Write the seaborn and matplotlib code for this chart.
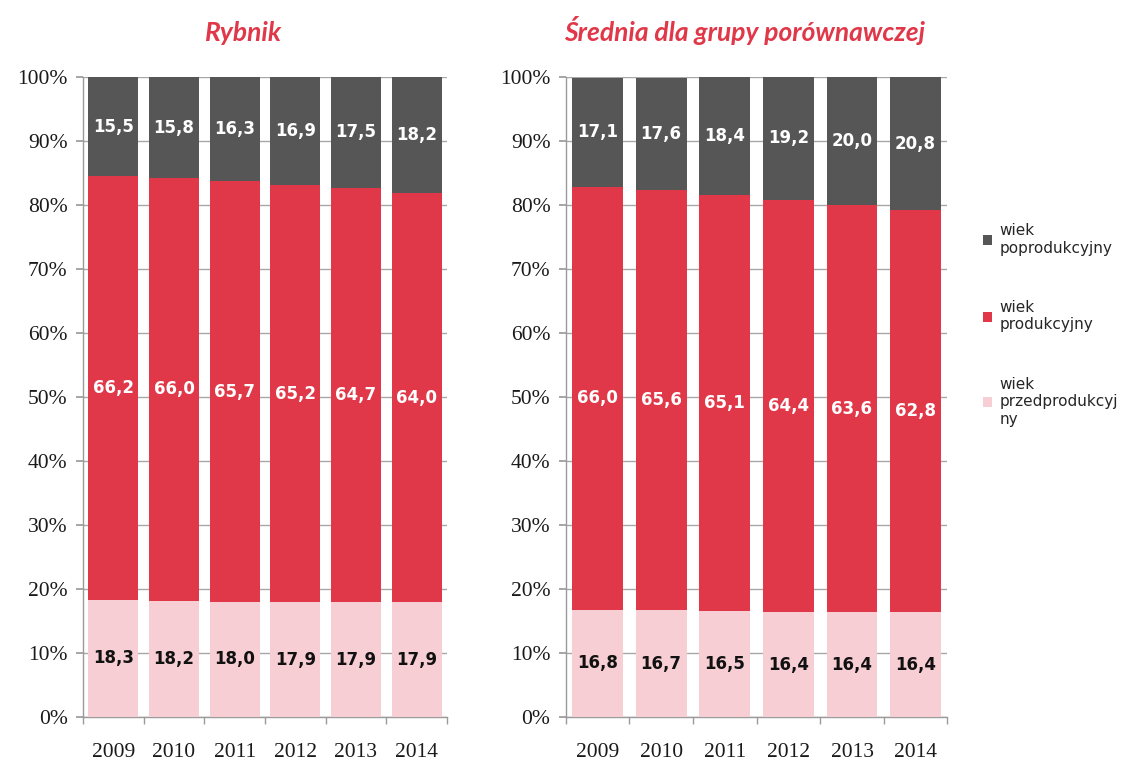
import matplotlib
matplotlib.use('Agg')
import matplotlib.pyplot as plt
import seaborn as sns
import pandas as pd
import numpy as np
from matplotlib.ticker import PercentFormatter
from matplotlib.patches import Patch

# data
years = ['2009', '2010', '2011', '2012', '2013', '2014']
rybnik_pre = [18.3, 18.2, 18.0, 17.9, 17.9, 17.9]
rybnik_prod = [66.2, 66.0, 65.7, 65.2, 64.7, 64.0]
rybnik_post = [15.5, 15.8, 16.3, 16.9, 17.5, 18.2]
group_pre = [16.8, 16.7, 16.5, 16.4, 16.4, 16.4]
group_prod = [66.0, 65.6, 65.1, 64.4, 63.6, 62.8]
group_post = [17.1, 17.6, 18.4, 19.2, 20.0, 20.8]

series_names = ['wiek\nprzedprodukcyj\nny', 'wiek\nprodukcyjny', 'wiek\npoprodukcyjny']
colors = ['#F7CED3', '#E03848', '#565656']
label_colors = ['#111111', 'white', 'white']

sns.set_theme(style='white')
plt.rcParams['font.family'] = ['DejaVu Sans']

fig = plt.figure(figsize=(11.36, 7.65), dpi=100)
ax1 = fig.add_axes([0.073, 0.0627, 0.3205, 0.8366])
ax2 = fig.add_axes([0.498, 0.0627, 0.336, 0.8366])


def stacked(ax, pre, prod, post, title, width, title_x):
    df = pd.DataFrame({'year': years, 'pre': pre, 'prod': prod, 'post': post})
    bottom = np.zeros(len(years))
    for col, c, lc in zip(['pre', 'prod', 'post'], colors, label_colors):
        sns.barplot(data=df, x='year', y=col, color=c, bottom=bottom, width=width,
                    saturation=1, ax=ax, zorder=3, edgecolor='none')
        for i, v in enumerate(df[col]):
            ax.text(i, bottom[i] + v / 2, f'{v:.1f}'.replace('.', ','), ha='center', va='center',
                    color=lc, fontsize=12, fontweight='bold', zorder=4)
        bottom = bottom + df[col].values

    ax.set_ylim(0, 100)
    ax.set_xlim(-0.5, len(years) - 0.5)
    ax.set_yticks(range(0, 101, 10))
    ax.yaxis.set_major_formatter(PercentFormatter(decimals=0))
    ax.grid(axis='y', color='#A8A8A8', lw=1, zorder=0)
    ax.grid(axis='x', visible=False)
    for s in ['top', 'right']:
        ax.spines[s].set_visible(False)
    for s in ['left', 'bottom']:
        ax.spines[s].set_color('#9A9A9A')
        ax.spines[s].set_linewidth(1)
    ax.set_xlabel('')
    ax.set_ylabel('')
    ax.set_xticks(np.arange(-0.5, len(years), 1), minor=True)
    ax.tick_params(axis='x', which='major', length=0, pad=19)
    ax.tick_params(axis='x', which='minor', length=5, color='#9A9A9A', direction='out', bottom=True)
    ax.tick_params(axis='y', length=5, color='#9A9A9A', direction='out', left=True, pad=6)
    for lab in ax.get_xticklabels() + ax.get_yticklabels():
        lab.set_family('Liberation Serif')
        lab.set_fontsize(15.5)
        lab.set_color('#1A1A1A')
    ax.set_title(title, color='#E03848', fontsize=19, fontweight='bold', style='italic',
                 family='Lato', pad=26, x=title_x)


stacked(ax1, rybnik_pre, rybnik_prod, rybnik_post, 'Rybnik', 0.825, 0.44)
stacked(ax2, group_pre, group_prod, group_post, 'Średnia dla grupy porównawczej', 0.8, 0.469)

handles = [Patch(facecolor=c, edgecolor='none') for c in colors]
fig.legend(handles[::-1], series_names[::-1], loc='upper left', bbox_to_anchor=(0.853, 0.726),
           frameon=False, fontsize=11, handlelength=0.6, handleheight=0.6,
           handletextpad=0.5, labelspacing=2.9)

fig.savefig('out.png', dpi=100)
